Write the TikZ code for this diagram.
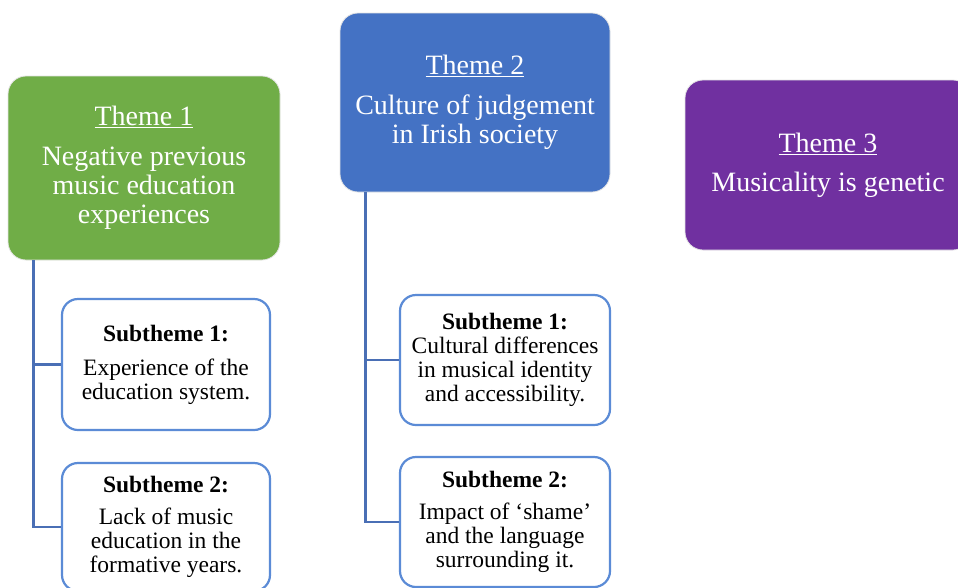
\documentclass[tikz,border=0pt]{standalone}
\usepackage{fontspec}
\setmainfont{Liberation Serif}
\definecolor{tgreen}{HTML}{70AD47}
\definecolor{tblue}{HTML}{4472C4}
\definecolor{tpurple}{HTML}{7030A0}
\definecolor{subedge}{HTML}{5B8BD6}
\definecolor{connc}{HTML}{4A6FB5}
\definecolor{rimc}{HTML}{E4E4E4}
\begin{document}
\begin{tikzpicture}[x=1pt,y=-1pt,
  theme/.style={rounded corners=18pt,draw=rimc,line width=0.8pt,text=white,align=center,
    inner sep=0pt,font=\fontsize{28}{29}\selectfont},
  subbox/.style={rounded corners=16pt,draw=subedge,line width=2.2pt,fill=white,text=black,align=center,
    inner sep=0pt,font=\fontsize{23.5}{24}\selectfont},
  conn/.style={draw=connc,line width=2.6pt}]
\useasboundingbox (0,0) rectangle (958,587);
\clip (0,0) rectangle (958,587);
\node[theme,fill=tgreen,minimum width=272pt,minimum height=184pt] (t1) at (144,168)
  {\underline{Theme 1}\\[11pt]Negative previous\\music education\\experiences};
\node[theme,fill=tblue,minimum width=270pt,minimum height=179pt] (t2) at (475,102.5)
  {\underline{Theme 2}\\[11pt]Culture of judgement\\in Irish society};
\node[theme,fill=tpurple,minimum width=286pt,minimum height=170pt] (t3) at (828,165)
  {\underline{Theme 3}\\[10pt]Musicality is genetic};
\node[subbox,minimum width=208pt,minimum height=131pt] (a1) at (166,364.5)
  {\textbf{Subtheme 1:}\\[10pt]Experience of the\\education system.};
\node[subbox,minimum width=208pt,minimum height=128pt] (a2) at (166,527)
  {\textbf{Subtheme 2:}\\[8pt]Lack of music\\education in the\\formative years.};
\node[subbox,minimum width=210pt,minimum height=130pt] (b1) at (505,360)
  {\textbf{Subtheme 1:}\\Cultural differences\\in musical identity\\and accessibility.};
\node[subbox,minimum width=210pt,minimum height=130pt] (b2) at (505,522)
  {\textbf{Subtheme 2:}\\[8pt]Impact of `shame'\\and the language\\surrounding it.};
\coordinate (j1) at ([xshift=26pt]t1.south west);
\coordinate (j2) at ([xshift=26pt]t2.south west);
\draw[conn] (j1) |- (a2.west);
\draw[conn] (a1.west) -- (a1.west -| j1);
\draw[conn] (j2) |- (b2.west);
\draw[conn] (b1.west) -- (b1.west -| j2);
\end{tikzpicture}
\end{document}
